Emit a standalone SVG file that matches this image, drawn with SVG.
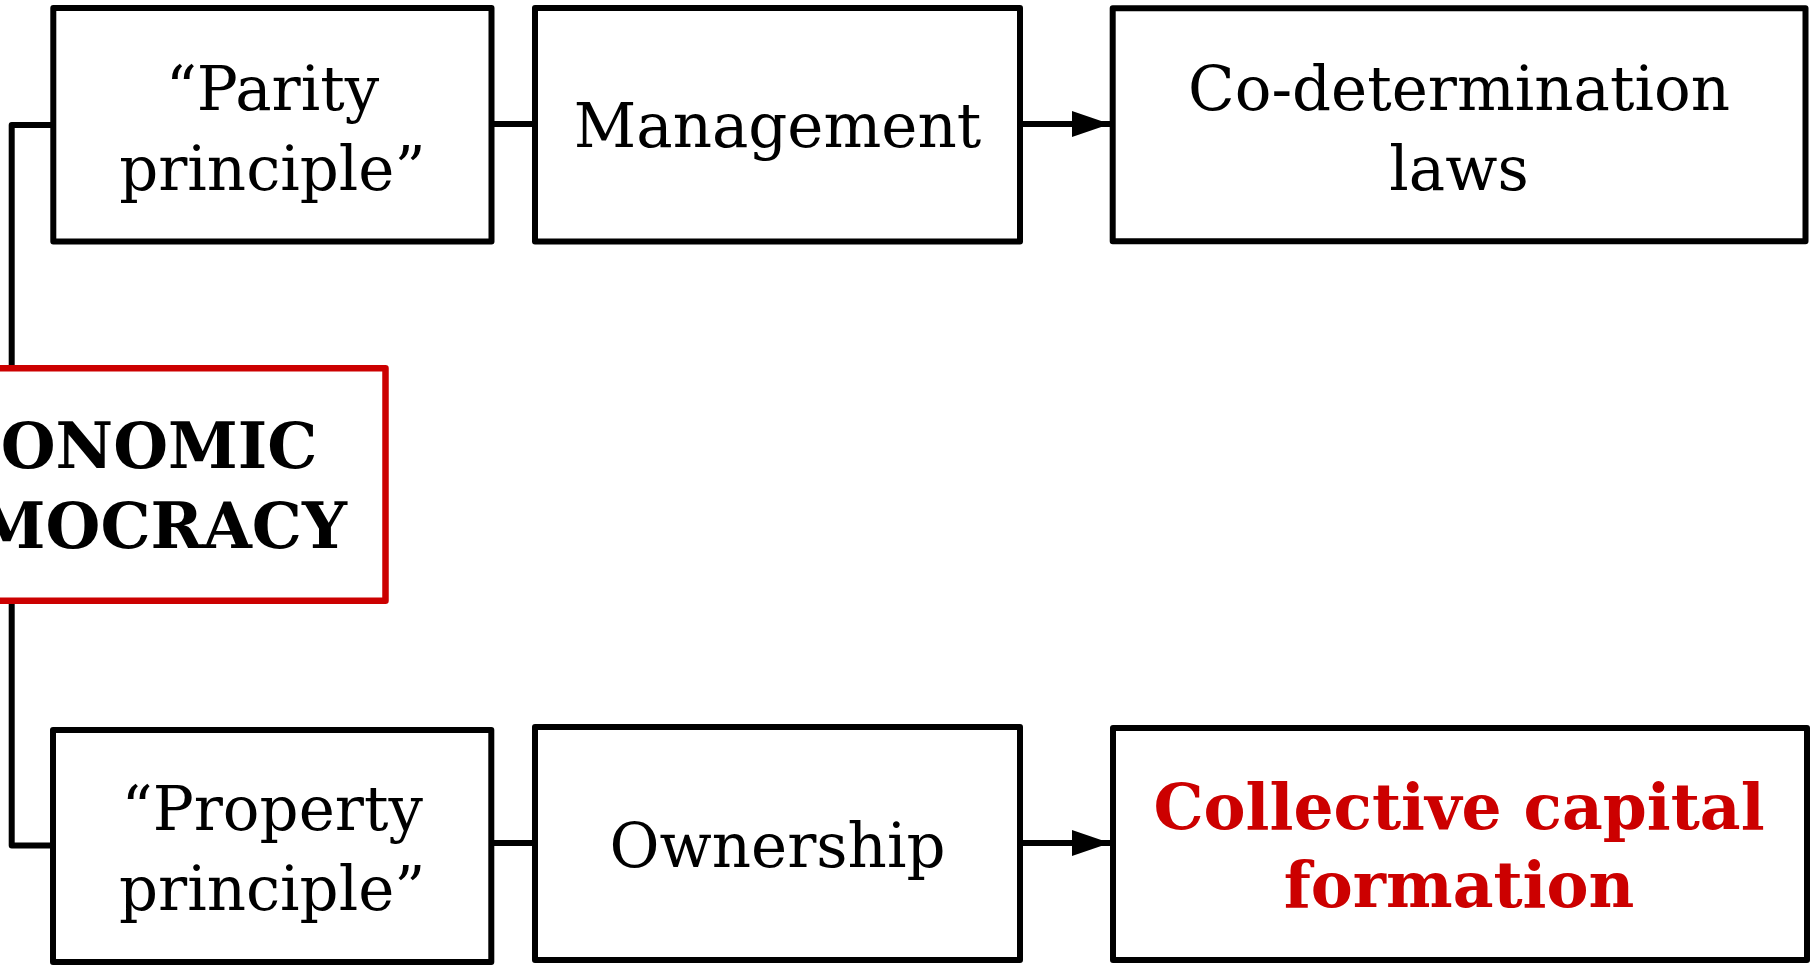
<svg xmlns="http://www.w3.org/2000/svg" width="1814" height="965" viewBox="0 0 1814 965">
  <style>
    .box { fill: #ffffff; stroke: #000000; stroke-width: 6; stroke-linejoin: round; }
    .redbox { fill: #ffffff; stroke: #cc0000; stroke-width: 6.5; stroke-linejoin: round; }
    .lbl { font-family: "DejaVu Serif", "Liberation Serif", serif; font-size: 61px; fill: #000000; text-anchor: middle; }
    .bold { font-family: "DejaVu Serif", "Liberation Serif", serif; font-size: 63px; font-weight: bold; text-anchor: middle; }
    .red { fill: #cc0000; }
    .blk { fill: #000000; }
    .conn { fill: none; stroke: #000000; stroke-width: 6; stroke-linejoin: round; }
  </style>
  <defs>
    <marker id="arrow" markerUnits="userSpaceOnUse" markerWidth="40" markerHeight="28" refX="38" refY="13" orient="auto">
      <path d="M0,0 L38,13 L0,26 Z" fill="#000000"/>
    </marker>
  </defs>
  <rect x="0" y="0" width="1814" height="965" fill="#ffffff"/>

  <g id="connectors">
    <path class="conn" d="M53,125 H11.7 V368"/>
    <path class="conn" d="M11.7,600.7 V845.5 H53"/>
    <path class="conn" d="M491.5,124 H535"/>
    <path class="conn" d="M1020,124 H1110" marker-end="url(#arrow)"/>
    <path class="conn" d="M491.3,843 H535"/>
    <path class="conn" d="M1020,843 H1110" marker-end="url(#arrow)"/>
  </g>

  <g id="economic-democracy">
    <rect class="redbox" x="-165" y="368.3" width="550.5" height="232.4"/>
    <text class="bold blk" x="110" y="468.3">ECONOMIC</text>
    <text class="bold blk" x="110" y="548.3">DEMOCRACY</text>
  </g>

  <g id="parity-principle">
    <rect class="box" x="53.3" y="8" width="438.2" height="233.5"/>
    <text class="lbl" x="272.4" y="110">“Parity</text>
    <text class="lbl" x="272.4" y="189.5">principle”</text>
  </g>

  <g id="management">
    <rect class="box" x="535" y="8" width="485" height="233.5"/>
    <text class="lbl" x="777.5" y="146.7">Management</text>
  </g>

  <g id="co-determination-laws">
    <rect class="box" x="1112.7" y="8.3" width="692.8" height="233"/>
    <text class="lbl" x="1459" y="110">Co-determination</text>
    <text class="lbl" x="1459" y="189.5">laws</text>
  </g>

  <g id="property-principle">
    <rect class="box" x="53" y="730" width="438.3" height="232"/>
    <text class="lbl" x="272.2" y="830">“Property</text>
    <text class="lbl" x="272.2" y="910">principle”</text>
  </g>

  <g id="ownership">
    <rect class="box" x="535" y="727" width="485" height="233"/>
    <text class="lbl" x="777.5" y="866.7">Ownership</text>
  </g>

  <g id="collective-capital-formation">
    <rect class="box" x="1113" y="728" width="694" height="232"/>
    <text class="bold red" x="1459" y="829.3">Collective capital</text>
    <text class="bold red" x="1459" y="906.7">formation</text>
  </g>
</svg>
